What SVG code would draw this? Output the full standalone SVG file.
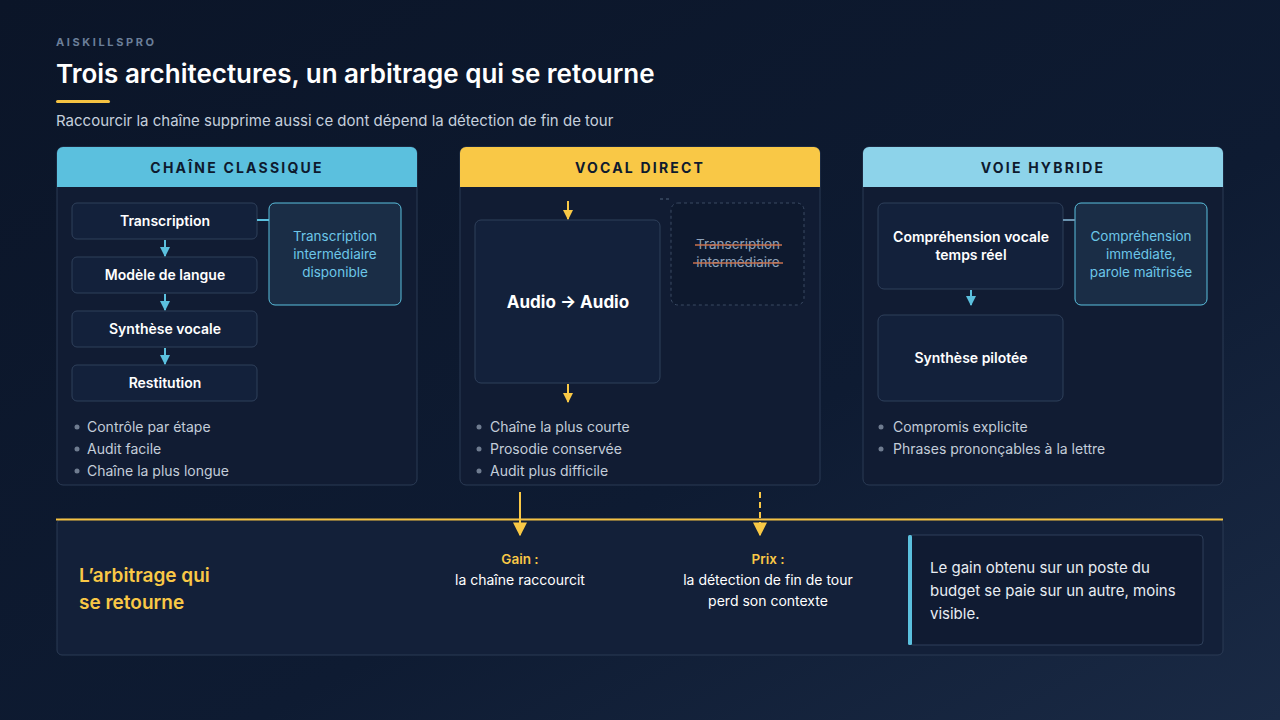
<svg xmlns="http://www.w3.org/2000/svg" width="1280" height="720" viewBox="0 0 1280 720">
<defs>
<linearGradient id="bg" x1="0" y1="0" x2="1" y2="1">
<stop offset="0" stop-color="#0b1528"/>
<stop offset="0.6" stop-color="#0e1b32"/>
<stop offset="1" stop-color="#1a2a45"/>
</linearGradient>
<marker id="ab" viewBox="0 0 10 10" refX="9" refY="5" markerWidth="10" markerHeight="10" markerUnits="userSpaceOnUse" orient="auto"><path d="M0,0 L10,5 L0,10 z" fill="#5bc0de"/></marker>
<marker id="ay" viewBox="0 0 10 10" refX="9" refY="5" markerWidth="10" markerHeight="10" markerUnits="userSpaceOnUse" orient="auto"><path d="M0,0 L10,5 L0,10 z" fill="#f9c846"/></marker>
<marker id="ay2" viewBox="0 0 10 10" refX="9" refY="5" markerWidth="14" markerHeight="14" markerUnits="userSpaceOnUse" orient="auto"><path d="M0,0 L10,5 L0,10 z" fill="#f9c846"/></marker>
</defs>
<style>
text{font-family:Inter,"Noto Sans",sans-serif}
.panel{fill:#111c33;stroke:#2b3b55;stroke-width:1}
.hdr{font-size:14px;font-weight:700;letter-spacing:2.2px;fill:#0e1a2e;text-anchor:middle}
.box{fill:#13213b;stroke:#2f405b;stroke-width:1}
.bt{font-size:14px;font-weight:600;fill:#ffffff;text-anchor:middle}
.side{fill:#1a2d46;stroke:#5bc0de;stroke-width:1}
.st{font-size:13.5px;fill:#6cc6e8;text-anchor:middle}
.bul{font-size:14px;fill:#c3cdd9}
.dot{fill:#6f7c90}
.cb{stroke:#5bc0de;stroke-width:2;fill:none}
.cy{stroke:#f9c846;stroke-width:2;fill:none}
</style>
<rect width="1280" height="720" fill="url(#bg)"/>
<g id="header">
<text x="56" y="46" font-size="11" font-weight="700" letter-spacing="2.6" fill="#6b7f99">AISKILLSPRO</text>
<text x="56" y="83" font-size="26" font-weight="600" fill="#ffffff">Trois architectures, un arbitrage qui se retourne</text>
<rect x="56" y="100" width="54" height="3" rx="1.5" fill="#f5c242"/>
<text x="56" y="126" font-size="15" fill="#c5d0dd">Raccourcir la chaîne supprime aussi ce dont dépend la détection de fin de tour</text>
</g>
<g id="panel-classique">
<rect class="panel" x="57" y="147" width="360" height="338" rx="6"/>
<path d="M57,187 V153 a6,6 0 0 1 6,-6 H411 a6,6 0 0 1 6,6 V187 Z" fill="#5bc0de"/>
<text class="hdr" x="237" y="173">CHAÎNE CLASSIQUE</text>
<circle class="dot" cx="77" cy="427" r="2.5"/><text class="bul" x="87" y="432">Contrôle par étape</text>
<circle class="dot" cx="77" cy="449" r="2.5"/><text class="bul" x="87" y="454">Audit facile</text>
<circle class="dot" cx="77" cy="471" r="2.5"/><text class="bul" x="87" y="476">Chaîne la plus longue</text>
</g>
<g id="n-transcription"><rect class="box" x="72" y="203" width="185" height="36" rx="5"/><text class="bt" x="165" y="226">Transcription</text></g>
<g id="n-modele"><rect class="box" x="72" y="257" width="185" height="36" rx="5"/><text class="bt" x="165" y="280">Modèle de langue</text></g>
<g id="n-synthese"><rect class="box" x="72" y="311" width="185" height="36" rx="5"/><text class="bt" x="165" y="334">Synthèse vocale</text></g>
<g id="n-restitution"><rect class="box" x="72" y="365" width="185" height="36" rx="5"/><text class="bt" x="165" y="388">Restitution</text></g>
<g id="n-transcription-dispo"><rect class="side" x="269" y="203" width="132" height="102" rx="6"/>
<text class="st" x="335" y="241">Transcription</text><text class="st" x="335" y="259">intermédiaire</text><text class="st" x="335" y="277">disponible</text></g>

<g id="panel-direct">
<rect class="panel" x="460" y="147" width="360" height="338" rx="6"/>
<path d="M460,187 V153 a6,6 0 0 1 6,-6 H814 a6,6 0 0 1 6,6 V187 Z" fill="#f9c846"/>
<text class="hdr" x="640" y="173">VOCAL DIRECT</text>
<circle class="dot" cx="479" cy="427" r="2.5"/><text class="bul" x="490" y="432">Chaîne la plus courte</text>
<circle class="dot" cx="479" cy="449" r="2.5"/><text class="bul" x="490" y="454">Prosodie conservée</text>
<circle class="dot" cx="479" cy="471" r="2.5"/><text class="bul" x="490" y="476">Audit plus difficile</text>
</g>
<g id="n-audio"><rect class="box" x="475" y="220" width="185" height="163" rx="6"/><text x="568" y="308" font-size="17" font-weight="700" fill="#ffffff" text-anchor="middle">Audio → Audio</text></g>
<g id="n-transcription-barree"><rect x="671" y="203" width="133" height="102" rx="7" fill="#0e192e" stroke="#3a4a63" stroke-dasharray="3 3"/>
<text x="738" y="249" font-size="13.5" fill="#8ea2ba" text-anchor="middle">Transcription</text>
<text x="738" y="267" font-size="13.5" fill="#8ea2ba" text-anchor="middle">intermédiaire</text>
<line x1="695" y1="245" x2="782" y2="245" stroke="#c8704f" stroke-width="1.6"/>
<line x1="693" y1="263" x2="783" y2="263" stroke="#c8704f" stroke-width="1.6"/>
</g>

<g id="panel-hybride">
<rect class="panel" x="863" y="147" width="360" height="338" rx="6"/>
<path d="M863,187 V153 a6,6 0 0 1 6,-6 H1217 a6,6 0 0 1 6,6 V187 Z" fill="#8dd3ea"/>
<text class="hdr" x="1043" y="173">VOIE HYBRIDE</text>
<circle class="dot" cx="881" cy="427" r="2.5"/><text class="bul" x="893" y="432">Compromis explicite</text>
<circle class="dot" cx="881" cy="449" r="2.5"/><text class="bul" x="893" y="454">Phrases prononçables à la lettre</text>
</g>
<g id="n-comprehension"><rect class="box" x="878" y="203" width="185" height="86" rx="6"/><text class="bt" x="971" y="242">Compréhension vocale</text><text class="bt" x="971" y="260">temps réel</text></g>
<g id="n-synthese-pilotee"><rect class="box" x="878" y="315" width="185" height="86" rx="6"/><text class="bt" x="971" y="363">Synthèse pilotée</text></g>
<g id="n-comprehension-immediate"><rect class="side" x="1075" y="203" width="132" height="102" rx="6" fill="#1b2f48" stroke="#4fa8c8"/>
<text class="st" x="1141" y="241" fill="#8dd3ea">Compréhension</text><text class="st" x="1141" y="259">immédiate,</text><text class="st" x="1141" y="277">parole maîtrisée</text></g>

<g id="bottom">
<rect x="57" y="519" width="1166" height="136" rx="5" fill="#132039" stroke="#2b3b55"/>
<line x1="56" y1="519.5" x2="1223" y2="519.5" stroke="#f5c242" stroke-width="2"/>
<text x="79" y="582" font-size="19" font-weight="600" fill="#f9c846">L’arbitrage qui</text>
<text x="79" y="609" font-size="19" font-weight="600" fill="#f9c846">se retourne</text>
<text x="520" y="564" font-size="13.5" font-weight="600" fill="#f9c846" text-anchor="middle">Gain :</text>
<text x="520" y="585" font-size="14" fill="#ffffff" text-anchor="middle">la chaîne raccourcit</text>
<text x="768" y="564" font-size="13.5" font-weight="600" fill="#f9c846" text-anchor="middle">Prix :</text>
<text x="768" y="585" font-size="14" fill="#ffffff" text-anchor="middle">la détection de fin de tour</text>
<text x="768" y="606" font-size="14" fill="#ffffff" text-anchor="middle">perd son contexte</text>
</g>
<g id="n-quote">
<rect x="909" y="535" width="294" height="110" rx="4" fill="#101b32" stroke="#2e3f5a"/>
<rect x="908" y="535" width="4" height="110" rx="1.5" fill="#5bc0de"/>
<text x="930" y="573" font-size="15" fill="#e8edf3">Le gain obtenu sur un poste du</text>
<text x="930" y="596" font-size="15" fill="#e8edf3">budget se paie sur un autre, moins</text>
<text x="930" y="619" font-size="15" fill="#e8edf3">visible.</text>
</g>

<g id="connectors">
<line class="cb" x1="165" y1="240" x2="165" y2="256" marker-end="url(#ab)"/>
<line class="cb" x1="165" y1="294" x2="165" y2="310" marker-end="url(#ab)"/>
<line class="cb" x1="165" y1="348" x2="165" y2="364" marker-end="url(#ab)"/>
<line class="cb" x1="257" y1="220" x2="269" y2="220"/>
<line x1="1063" y1="220" x2="1075" y2="220" stroke="#6a93b0" stroke-width="2"/>
<line class="cb" x1="971" y1="290" x2="971" y2="305" stroke="#8dd3ea" marker-end="url(#ab)"/>
<line class="cy" x1="568" y1="201" x2="568" y2="219" marker-end="url(#ay)"/>
<line class="cy" x1="568" y1="384" x2="568" y2="402" marker-end="url(#ay)"/>
<line x1="660" y1="199" x2="671" y2="199" stroke="#3a4a63" stroke-width="1.5" stroke-dasharray="3 3"/>
<line class="cy" x1="520" y1="492" x2="520" y2="535" marker-end="url(#ay2)"/>
<line class="cy" x1="760" y1="492" x2="760" y2="535" stroke-dasharray="6 4" marker-end="url(#ay2)"/>
</g>
</svg>
